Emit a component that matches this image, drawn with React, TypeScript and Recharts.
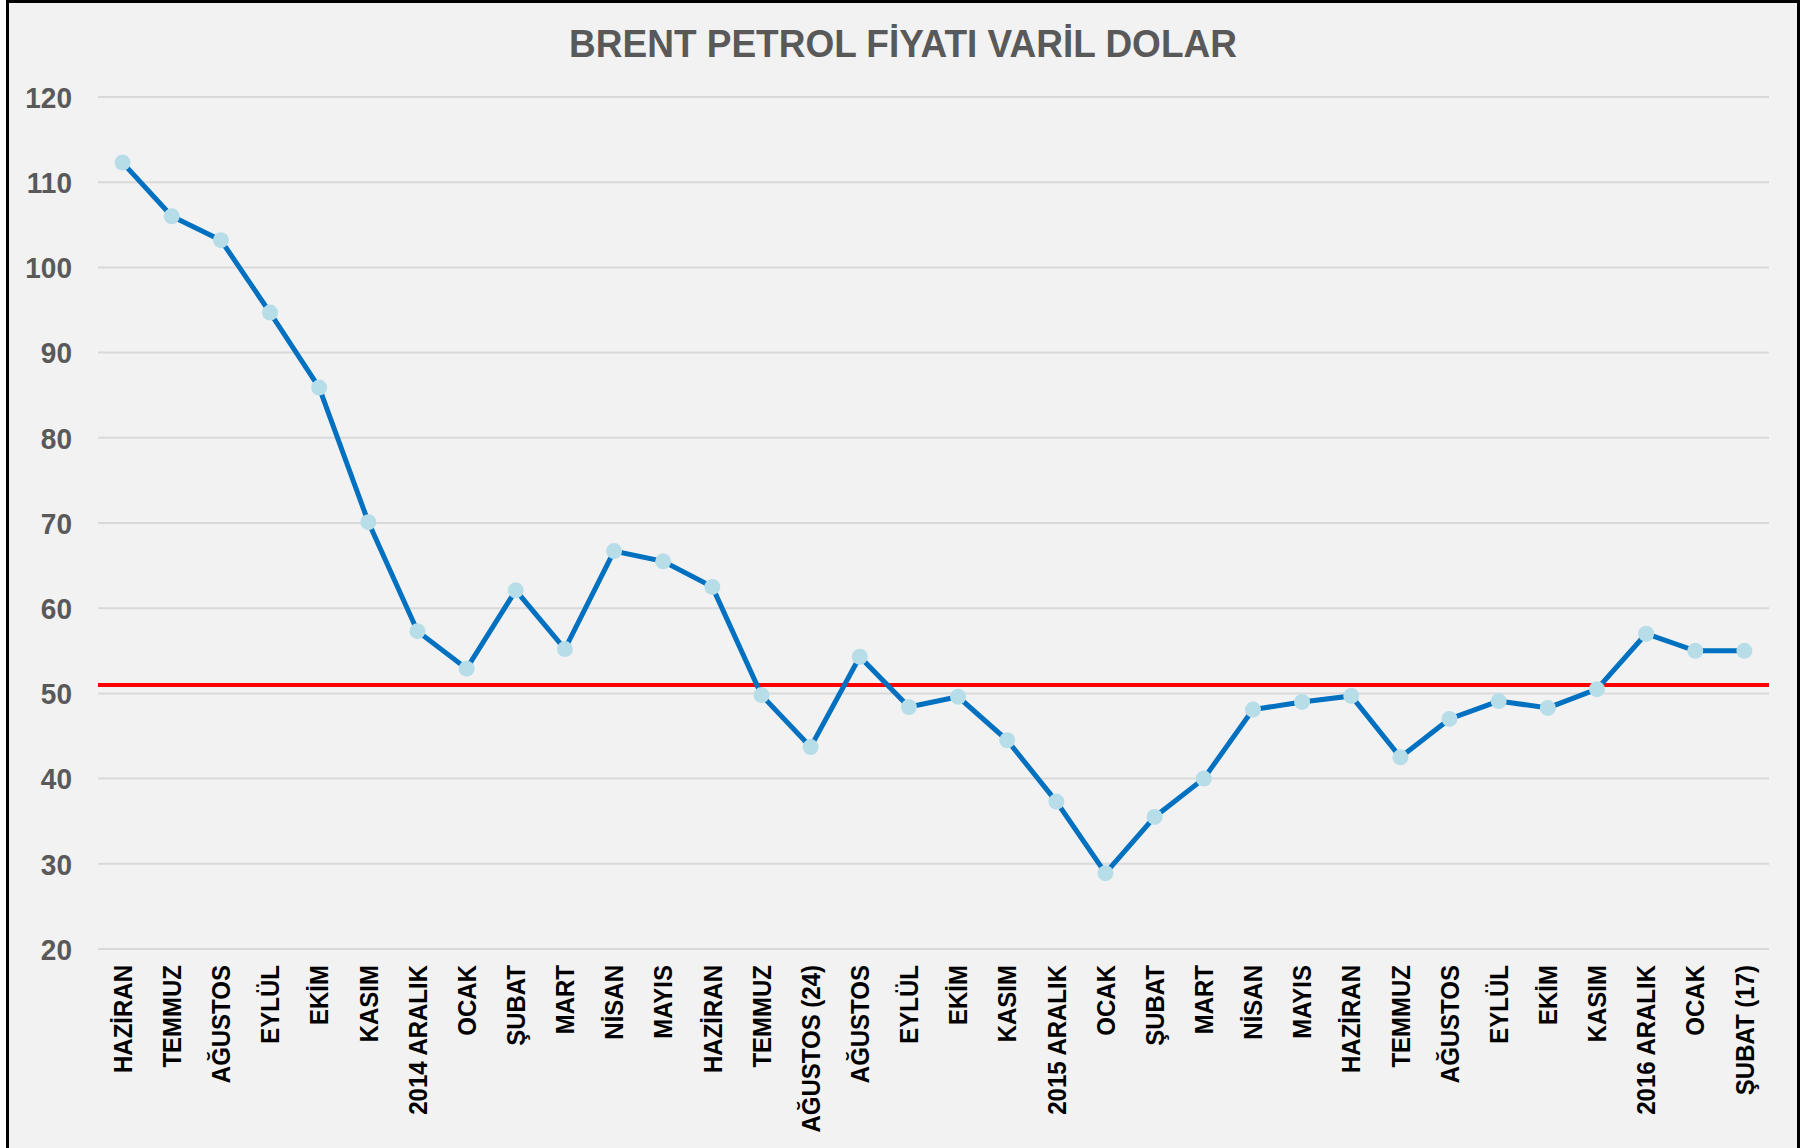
import React from "react";
import { LineChart, Line, XAxis, YAxis, CartesianGrid, ReferenceLine } from "recharts";

const MONTHS = [
  "HAZİRAN", "TEMMUZ", "AĞUSTOS", "EYLÜL", "EKİM", "KASIM", "2014 ARALIK",
  "OCAK", "ŞUBAT", "MART", "NİSAN", "MAYIS", "HAZİRAN", "TEMMUZ", "AĞUSTOS (24)",
  "AĞUSTOS", "EYLÜL", "EKİM", "KASIM", "2015 ARALIK",
  "OCAK", "ŞUBAT", "MART", "NİSAN", "MAYIS", "HAZİRAN", "TEMMUZ", "AĞUSTOS",
  "EYLÜL", "EKİM", "KASIM", "2016 ARALIK",
  "OCAK", "ŞUBAT (17)",
];

const BRENT = [
  112.3, 106.0, 103.2, 94.7, 85.9, 70.1, 57.3,
  52.9, 62.1, 55.2, 66.7, 65.5, 62.5, 49.8, 43.7,
  54.3, 48.4, 49.6, 44.5, 37.3,
  28.9, 35.5, 40.0, 48.1, 49.0, 49.7, 42.5, 47.0,
  49.1, 48.3, 50.5, 57.0,
  55.0, 55.0,
];

const Y_TICKS = [20, 30, 40, 50, 60, 70, 80, 90, 100, 110, 120];
const THRESHOLD = 51;

const TITLE = "BRENT PETROL FİYATI VARİL DOLAR";
const FONT = '"Liberation Sans", Arial, sans-serif';

const data = MONTHS.map((ay, i) => ({ idx: i, ay, fiyat: BRENT[i] }));

const XTick = (props: any) => {
  const { x, y, payload } = props;
  return (
    <g transform={`translate(${x},${y}) rotate(-90) scale(1,1.065)`}>
      <text
        x={0}
        y={0}
        dy="0.36em"
        textAnchor="end"
        fontFamily={FONT}
        fontWeight="bold"
        fontSize={24}
        fill="#000"
      >
        {MONTHS[payload.value]}
      </text>
    </g>
  );
};

const YTick = (props: any) => {
  const { x, y, payload } = props;
  return (
    <g transform={`translate(${x},${y}) scale(1,1.08)`}>
      <text
        x={0}
        y={0}
        dy="0.358em"
        textAnchor="end"
        fontFamily={FONT}
        fontWeight="bold"
        fontSize={28}
        fill="#595959"
      >
        {payload.value}
      </text>
    </g>
  );
};

export default function App() {
  return (
    <div
      style={{
        position: "absolute",
        left: 0,
        top: 0,
        width: 1810,
        height: 1148,
        overflow: "hidden",
        background: "#fff",
      }}
    >
      {/* chart frame */}
      <div
        style={{
          position: "absolute",
          left: 6,
          top: 0,
          width: 1794,
          height: 1170,
          boxSizing: "border-box",
          border: "3px solid #000",
          background: "#F2F2F2",
        }}
      />

      <svg
        width={1810}
        height={90}
        style={{ position: "absolute", left: 0, top: 0 }}
      >
        <g transform="translate(903,57) scale(1,1.06)">
          <text
            x={0}
            y={0}
            textAnchor="middle"
            fontFamily={FONT}
            fontWeight="bold"
            fontSize={37}
            fill="#595959"
          >
            {TITLE}
          </text>
        </g>
      </svg>

      <div style={{ position: "absolute", left: 0, top: 0 }}>
        <LineChart
          width={1810}
          height={1148}
          data={data}
          margin={{ top: 97, right: 41, bottom: 0, left: 0 }}
        >
          <CartesianGrid horizontal vertical={false} stroke="#D9D9D9" strokeWidth={2} />
          <XAxis
            dataKey="idx"
            type="category"
            interval={0}
            padding={{ left: 24.6, right: 24.6 }}
            axisLine={false}
            tickLine={false}
            tickSize={0}
            tickMargin={16}
            tick={<XTick />}
            height={199}
          />
          <YAxis
            type="number"
            domain={[20, 120]}
            ticks={Y_TICKS}
            interval={0}
            width={98}
            axisLine={false}
            tickLine={false}
            tickSize={0}
            tickMargin={26}
            tick={<YTick />}
          />
          <ReferenceLine y={THRESHOLD} stroke="#FF0000" strokeWidth={4} ifOverflow="extendDomain" />
          <Line
            type="linear"
            dataKey="fiyat"
            stroke="#0070C0"
            strokeWidth={5}
            dot={{ r: 8, fill: "#B7DEE8", stroke: "none", strokeWidth: 0 }}
            activeDot={false}
            isAnimationActive={false}
          />
        </LineChart>
      </div>
    </div>
  );
}
